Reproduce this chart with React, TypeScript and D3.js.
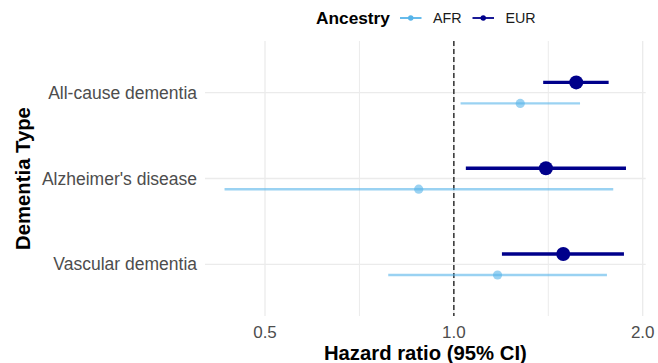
import React, { useEffect, useRef } from "react"
import * as d3 from "d3"

const types = ["All-cause dementia", "Alzheimer's disease", "Vascular dementia"]
const ancestries = ["AFR", "EUR"]
const eurHr = [1.567, 1.402, 1.494]
const eurLo = [1.388, 1.045, 1.193]
const eurHi = [1.765, 1.881, 1.867]
const afrHr = [1.276, 0.879, 1.174]
const afrLo = [1.025, 0.431, 0.786]
const afrHi = [1.589, 1.795, 1.754]
const xTicks = [0.5, 1.0, 2.0]

const colors: Record<string, string> = { AFR: "#56B4E9", EUR: "#00008B" }

const App = () => {
    const ref = useRef<SVGSVGElement>(null)

    useEffect(() => {
        if (!ref.current) return
        const svg = d3.select(ref.current)
        svg.selectAll("*").remove()

        const left = 205
        const right = 645.7
        const top = 41
        const bottom = 316
        const font = "Liberation Sans, Arial, Helvetica, sans-serif"

        const rows = types.flatMap((t, i) => [
            { type: t, anc: "EUR", hr: eurHr[i], lo: eurLo[i], hi: eurHi[i] },
            { type: t, anc: "AFR", hr: afrHr[i], lo: afrLo[i], hi: afrHi[i] },
        ])

        // log scale, 0.5 -> 265, 2 -> 642.7
        const x = d3.scaleLog().base(2).domain([0.5, 2]).range([265, 642.7])
        const y = d3.scalePoint().domain(types).range([92.7, 264.3])
        const dodge = (a: string) => (a === "EUR" ? -10.3 : 10.7)

        // gridlines
        const minor = [Math.SQRT1_2, Math.SQRT2]
        svg.append("g")
            .selectAll("line")
            .data(minor)
            .enter()
            .append("line")
            .attr("x1", (d) => x(d))
            .attr("x2", (d) => x(d))
            .attr("y1", top)
            .attr("y2", bottom)
            .attr("stroke", "#ebebeb")
            .attr("stroke-width", 1)
        svg.append("g")
            .selectAll("line")
            .data(xTicks)
            .enter()
            .append("line")
            .attr("x1", (d) => x(d))
            .attr("x2", (d) => x(d))
            .attr("y1", top)
            .attr("y2", bottom)
            .attr("stroke", "#ebebeb")
            .attr("stroke-width", 1.3)
        svg.append("g")
            .selectAll("line")
            .data(types)
            .enter()
            .append("line")
            .attr("x1", left)
            .attr("x2", right)
            .attr("y1", (d) => y(d)!)
            .attr("y2", (d) => y(d)!)
            .attr("stroke", "#ebebeb")
            .attr("stroke-width", 1.3)

        // reference line at HR = 1
        svg.append("line")
            .attr("x1", x(1))
            .attr("x2", x(1))
            .attr("y1", top)
            .attr("y2", bottom)
            .attr("stroke", "#000")
            .attr("stroke-width", 1.4)
            .attr("stroke-dasharray", "5,3")
            .attr("opacity", 0.85)

        // CI bars and points
        const g = svg.append("g")
        g.selectAll("line.ci")
            .data(rows)
            .enter()
            .append("line")
            .attr("class", "ci")
            .attr("x1", (d) => x(d.lo))
            .attr("x2", (d) => x(d.hi))
            .attr("y1", (d) => y(d.type)! + dodge(d.anc))
            .attr("y2", (d) => y(d.type)! + dodge(d.anc))
            .attr("stroke", (d) => colors[d.anc])
            .attr("stroke-opacity", (d) => (d.anc === "AFR" ? 0.6 : 1))
            .attr("stroke-width", (d) => (d.anc === "AFR" ? 2.4 : 3.4))
        g.selectAll("circle")
            .data(rows)
            .enter()
            .append("circle")
            .attr("cx", (d) => x(d.hr))
            .attr("cy", (d) => y(d.type)! + dodge(d.anc))
            .attr("r", (d) => (d.anc === "AFR" ? 4.6 : 7))
            .attr("fill", (d) => colors[d.anc])
            .attr("fill-opacity", (d) => (d.anc === "AFR" ? 0.6 : 1))

        // y axis labels
        svg.append("g")
            .selectAll("text")
            .data(types)
            .enter()
            .append("text")
            .attr("x", 197)
            .attr("y", (d) => y(d)!)
            .attr("dy", "0.35em")
            .attr("text-anchor", "end")
            .attr("font-family", font)
            .attr("font-size", 17.5)
            .attr("fill", "#4d4d4d")
            .text((d) => d)

        // x axis labels
        svg.append("g")
            .selectAll("text")
            .data(xTicks)
            .enter()
            .append("text")
            .attr("x", (d) => x(d))
            .attr("y", 337.5)
            .attr("text-anchor", "middle")
            .attr("font-family", font)
            .attr("font-size", 17)
            .attr("fill", "#4d4d4d")
            .text((d) => d3.format(".1f")(d))

        // axis titles
        svg.append("text")
            .attr("x", (left + right) / 2)
            .attr("y", 360)
            .attr("text-anchor", "middle")
            .attr("font-family", font)
            .attr("font-size", 20.3)
            .attr("font-weight", "bold")
            .text("Hazard ratio (95% CI)")
        svg.append("text")
            .attr("transform", "translate(29.5," + (top + bottom) / 2 + ") rotate(-90)")
            .attr("text-anchor", "middle")
            .attr("font-family", font)
            .attr("font-size", 20.3)
            .attr("font-weight", "bold")
            .text("Dementia Type")

        // legend
        const lg = svg.append("g")
        lg.append("text")
            .attr("x", 316)
            .attr("y", 18)
            .attr("dy", "0.35em")
            .attr("font-family", font)
            .attr("font-size", 17.3)
            .attr("font-weight", "bold")
            .text("Ancestry")
        const keyX = [400, 472.5]
        ancestries.forEach((a, i) => {
            lg.append("line")
                .attr("x1", keyX[i])
                .attr("x2", keyX[i] + 21.5)
                .attr("y1", 18)
                .attr("y2", 18)
                .attr("stroke", colors[a])
                .attr("stroke-width", 1.8)
            lg.append("circle")
                .attr("cx", keyX[i] + 10.75)
                .attr("cy", 18)
                .attr("r", 2.7)
                .attr("fill", colors[a])
            lg.append("text")
                .attr("x", keyX[i] + 33)
                .attr("y", 18)
                .attr("dy", "0.35em")
                .attr("font-family", font)
                .attr("font-size", 14.3)
                .attr("fill", "#1a1a1a")
                .text(a)
        })
    }, [])

    return (
        <svg
            ref={ref}
            width={658}
            height={363}
            style={{ position: "absolute", left: 0, top: 0, background: "#fff" }}
        />
    )
}

export default App
